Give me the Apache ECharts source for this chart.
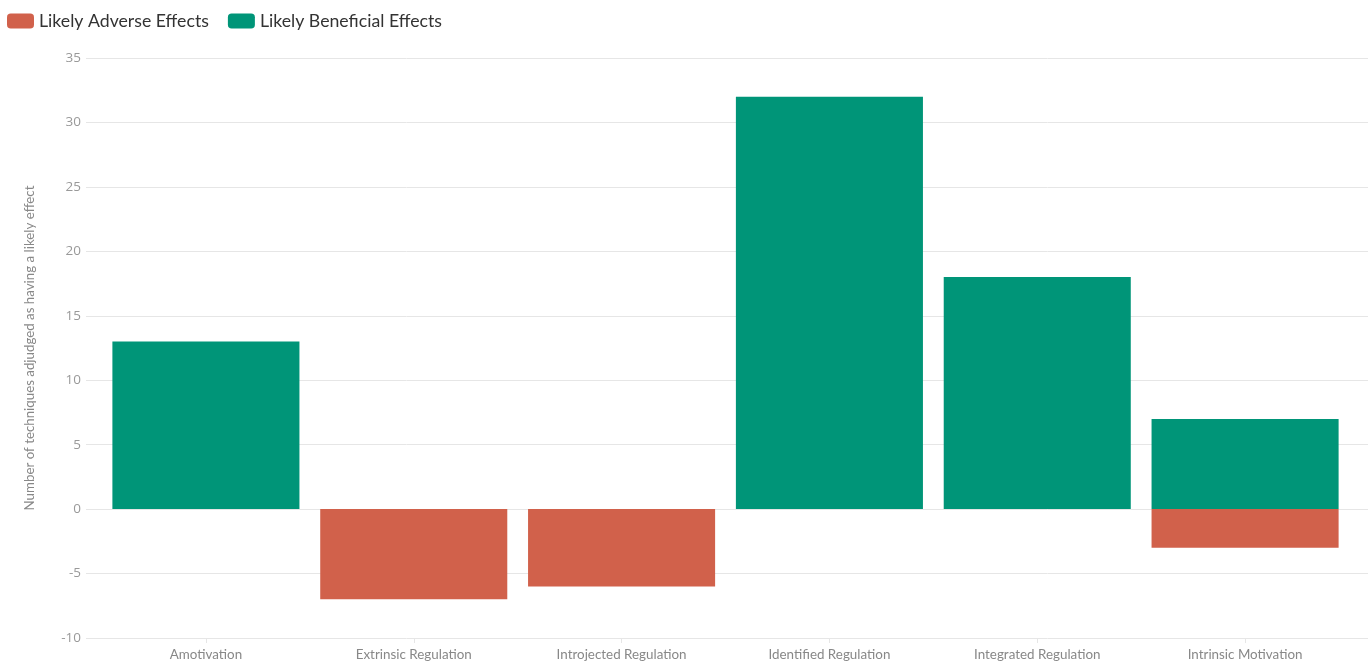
<!DOCTYPE html>
<html>
<head>
<meta charset="utf-8">
<script src="https://cdn.jsdelivr.net/npm/echarts@6/dist/echarts.min.js"></script>
<style>html,body{margin:0;padding:0;background:#fff}#c{width:1372px;height:665px}</style>
</head>
<body>
<div id="c"></div>
<script>
var categories = ['Amotivation','Extrinsic Regulation','Introjected Regulation','Identified Regulation','Integrated Regulation','Intrinsic Motivation'];
var adverse = [0, -7, -6, 0, 0, -3];
var beneficial = [13, 0, 0, 32, 18, 7];
var yTicks = [-10, -5, 0, 5, 10, 15, 20, 25, 30, 35];

var yMin = yTicks[0], yMax = yTicks[yTicks.length-1];
var chart = echarts.init(document.getElementById('c'));
chart.setOption({
  animation: false,
  legend: {
    left: 2, top: 7, itemWidth: 27, itemHeight: 15, itemGap: 19,
    icon: 'roundRect',
    textStyle: {fontFamily: 'Lato', fontSize: 17.7, color: '#333'},
    data: ['Likely Adverse Effects', 'Likely Beneficial Effects']
  },
  grid: [
    {left: 86, right: 4, top: 58, bottom: 27},
    {left: 102, right: 23, top: 58, bottom: 27}
  ],
  xAxis: [
    {type: 'value', gridIndex: 0, show: false, min: 0, max: 1},
    {
      type: 'category', gridIndex: 1, data: categories, position: 'bottom',
      axisLine: {show: false, onZero: false},
      axisTick: {show: true, alignWithLabel: true, length: 5, lineStyle: {color: '#e6e6e6'}},
      axisLabel: {fontFamily: 'Lato', fontSize: 13.4, color: '#888', margin: 10}
    }
  ],
  yAxis: [
    {
      type: 'value', gridIndex: 0, min: yMin, max: yMax, interval: 5,
      name: 'Number of techniques adjudged as having a likely effect',
      nameLocation: 'middle', nameGap: 50,
      nameTextStyle: {fontFamily: 'Lato', fontSize: 13.3, color: '#888'},
      axisLine: {show: false}, axisTick: {show: false},
      axisLabel: {fontFamily: 'Open Sans', fontSize: 13.5, color: '#999', margin: 5},
      splitLine: {lineStyle: {color: '#e6e6e6'}}
    },
    {
      type: 'value', gridIndex: 1, min: yMin, max: yMax, interval: 5, show: false,
      splitLine: {show: false}
    }
  ],
  series: [
    {name: 'Likely Adverse Effects', type: 'bar', stack: 's', data: adverse,
     xAxisIndex: 1, yAxisIndex: 1,
     itemStyle: {color: '#D1614B'}, barCategoryGap: '10%'},
    {name: 'Likely Beneficial Effects', type: 'bar', stack: 's', data: beneficial,
     xAxisIndex: 1, yAxisIndex: 1,
     itemStyle: {color: '#009578'}, barCategoryGap: '10%'}
  ]
});
</script>
</body>
</html>
